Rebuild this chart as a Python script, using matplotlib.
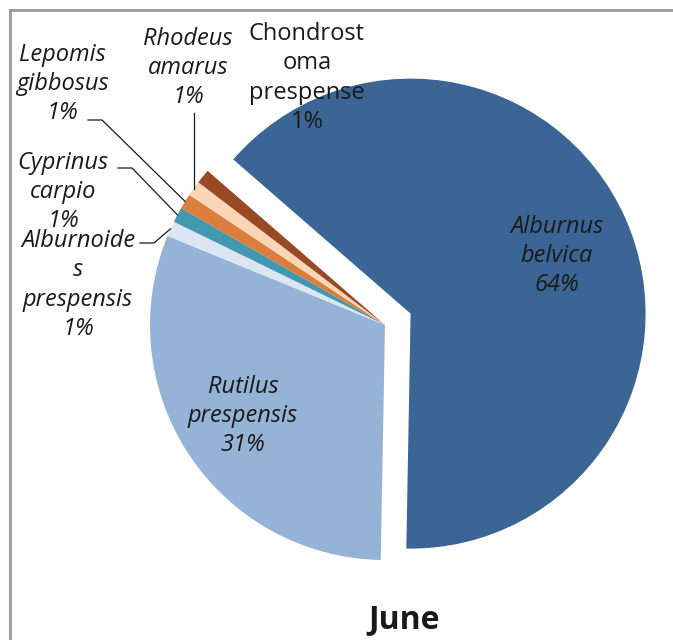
import matplotlib.pyplot as plt
import numpy as np

species = ["Alburnus\nbelvica", "Rutilus\nprespensis", "Alburnoide\ns\nprespensis",
           "Cyprinus\ncarpio", "Lepomis\ngibbosus", "Rhodeus\namarus",
           "Chondrost\noma\nprespense"]
share = [63.9, 30.9, 1.05, 1.05, 1.05, 1.05, 1.0]
pct = ["64%", "31%", "1%", "1%", "1%", "1%", "1%"]
colors = ["#3A6595", "#95B3D7", "#DCE6F2", "#4198AF", "#DB7E3D", "#FCD5B5", "#984A24"]
explode = [28, 0, 0, 0, 0, 0, 0]

W, H = 673, 640
fig = plt.figure(figsize=(W/100, H/100), dpi=100)
ax = fig.add_axes([0, 0, 1, 1])

cx, cy, R = 385, H - 325, 235
# explode is in data units here (pixels)
wedges, _ = ax.pie(share, colors=colors, startangle=139, counterclock=False,
                   center=(cx, cy), radius=R, explode=explode,
                   wedgeprops=dict(linewidth=0))
ax.set_xlim(0, W)
ax.set_ylim(0, H)
ax.set_aspect("equal")
ax.axis("off")

fnt = dict(family="Open Sans", size=17, color="#1a1a1a", linespacing=1.28,
           ha="center", va="center")

def lbl(i, x, y, style="italic"):
    ax.text(x, H - y, species[i] + "\n" + pct[i], style=style, **fnt)

def edge(i):
    w = wedges[i]
    a = np.deg2rad((w.theta1 + w.theta2) / 2)
    return cx + R*np.cos(a), cy + R*np.sin(a)

lbl(0, 557, 256)
lbl(1, 243, 416)
lbl(2, 78, 285)
lbl(3, 63, 192)
lbl(4, 62, 84)
lbl(5, 188, 68)
lbl(6, 307, 78, style="normal")

# leader lines
for i, (x0, y0) in [(2, (140, 243)), (3, (118, 168)), (4, (88, 120))]:
    ex, ey = edge(i)
    ax.plot([x0, x0 + 14, ex], [H - y0, H - y0, ey], color="#1a1a1a", lw=0.9)
ex, ey = edge(5)
ax.plot([ex, ex], [H - 113, ey], color="#1a1a1a", lw=0.9)

ax.text(404, H - 620, "June", family="Open Sans", weight="bold", size=23,
        color="#1a1a1a", ha="center", va="center")

# chart border (top and left visible)
ax.plot([10, W], [H - 10, H - 10], color="#9a9a9a", lw=2)
ax.plot([10, 10], [H - 10, 0], color="#9a9a9a", lw=2)

fig.savefig("out.png", dpi=100)
